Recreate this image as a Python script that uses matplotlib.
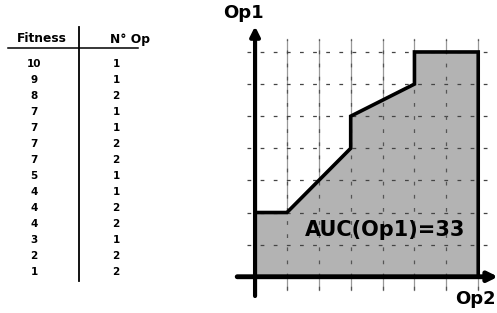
import matplotlib
matplotlib.use('Agg')
import matplotlib.pyplot as plt

# table values
fitness = [10, 9, 8, 7, 7, 7, 7, 5, 4, 4, 4, 3, 2, 1]
n_op = [1, 1, 2, 1, 1, 2, 2, 1, 1, 2, 2, 1, 2, 2]

# curve of Op1 against Op2
op2 = [0, 0, 1, 3, 3, 5, 5, 7, 7]
op1 = [0, 2, 2, 4, 5, 6, 7, 7, 0]
auc = 33

fig = plt.figure(figsize=(4.97, 3.13), dpi=100)

# table, drawn in pixel coordinates
tab = fig.add_axes([0, 0, 1, 1])
tab.set_xlim(0, 497)
tab.set_ylim(313, 0)
tab.axis('off')
tab.text(42, 39, 'Fitness', ha='center', va='center', fontsize=8.8, fontweight='bold')
tab.text(130, 39, 'N° Op', ha='center', va='center', fontsize=8.8, fontweight='bold')
tab.plot([8, 138], [47.7, 47.7], color='black', lw=1.1)
tab.plot([79, 79], [27, 281], color='black', lw=1.3)
for i in range(len(fitness)):
    y = 64.3 + i * 16.0
    tab.text(34, y, str(fitness[i]), ha='center', va='center', fontsize=7.5, fontweight='bold')
    tab.text(116, y, str(n_op[i]), ha='center', va='center', fontsize=7.5, fontweight='bold')

# chart
ax = fig.add_axes([0.4747, 0.0543, 0.526, 0.8617])
ax.set_xlim(-0.6, 7.6)
ax.set_ylim(-0.6, 7.8)
ax.axis('off')

dash = (0, (3, 7.5))
for k in range(1, 8):
    ax.plot([k, k], [-0.4, 7.4], color='#999999', lw=0.9, zorder=1)

ax.fill(op2, op1, color='#b3b3b3', zorder=2)
for k in range(1, 8):
    ax.plot([-0.25, 7.4], [k, k], color='#444444', lw=0.9, ls=dash, zorder=2.5)
    ax.plot([k, k], [-0.4, 7.4], color='#555555', lw=0.9, ls=dash, zorder=2.5)
ax.plot(op2, op1, color='black', lw=2.6, solid_joinstyle='miter', zorder=3)

ax.annotate('', xy=(7.62, 0), xytext=(-0.56, 0),
            arrowprops=dict(arrowstyle='-|>', lw=3.5, color='black', mutation_scale=14,
                            shrinkA=0, shrinkB=0), annotation_clip=False, zorder=4)
ax.annotate('', xy=(0, 7.8), xytext=(0, -0.6),
            arrowprops=dict(arrowstyle='-|>', lw=3, color='black', mutation_scale=14,
                            shrinkA=0, shrinkB=0), annotation_clip=False, zorder=4)

ax.text(-0.37, 8.2, 'Op1', ha='center', va='center', fontsize=13, fontweight='bold',
        clip_on=False)
ax.text(6.9, -0.7, 'Op2', ha='center', va='center', fontsize=13, fontweight='bold',
        clip_on=False)
ax.text(4.08, 1.45, 'AUC(Op1)=%d' % auc, ha='center', va='center', fontsize=15,
        fontweight='bold', zorder=5)

fig.savefig('out.png', dpi=100)
